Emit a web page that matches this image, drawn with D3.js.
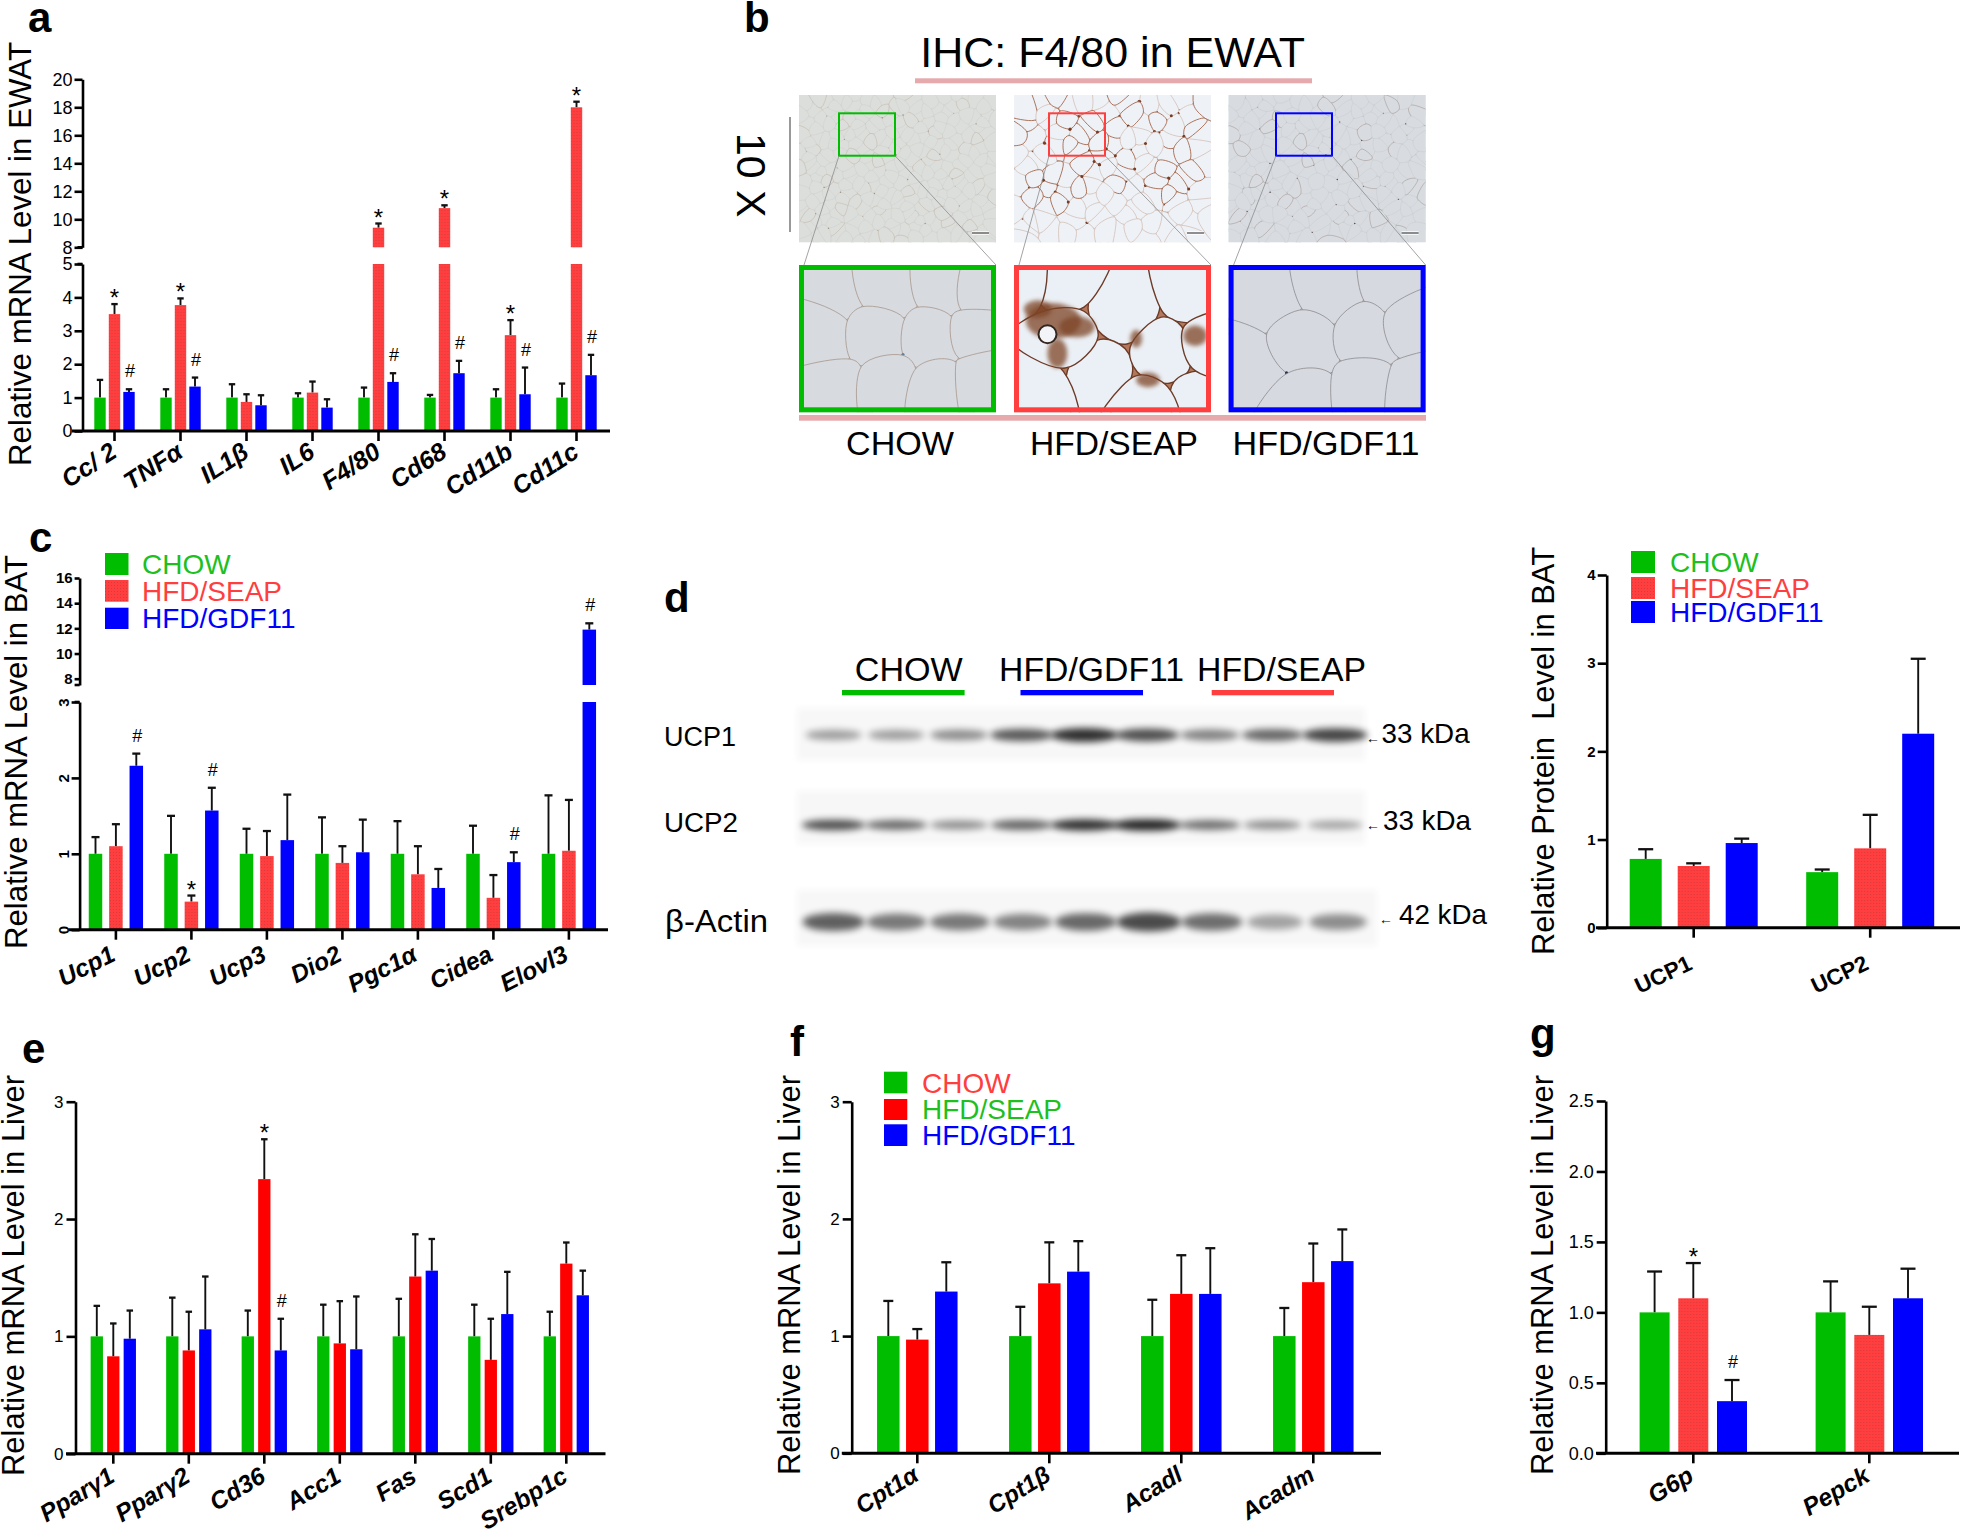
<!DOCTYPE html>
<html>
<head>
<meta charset="utf-8">
<script src="https://cdn.jsdelivr.net/npm/d3@7"></script>
<style>
  html, body { margin: 0; padding: 0; background: #fff; }
  svg text { font-family: "Liberation Sans", Arial, sans-serif; }
</style>
</head>
<body>
<svg id="figure" width="1961" height="1532"></svg>
<script>
// Panel a - EWAT mRNA
const aGenes = ["Cc/ 2", "TNFα", "IL1β", "IL6", "F4/80", "Cd68", "Cd11b", "Cd11c"];
const aChow = [1, 1, 1, 1, 1, 1, 1, 1];
const aChowTop = [1.53, 1.25, 1.4, 1.13, 1.3, 1.08, 1.25, 1.42];
const aSeap = [3.5, 3.77, 0.87, 1.15, 9.4, 10.8, 2.87, 18];
const aSeapTop = [3.8, 3.97, 1.1, 1.48, 9.7, 11, 3.32, 18.4];
const aGdf = [1.17, 1.33, 0.77, 0.7, 1.47, 1.73, 1.1, 1.67];
const aGdfTop = [1.25, 1.6, 1.07, 0.95, 1.73, 2.1, 1.9, 2.28];
const aStars = ["Cc/ 2", "TNFα", "F4/80", "Cd68", "Cd11b", "Cd11c"];
const aHashes = ["Cc/ 2", "TNFα", "F4/80", "Cd68", "Cd11b", "Cd11c"];
const aLowTicks = [0, 1, 2, 3, 4, 5];
const aUpTicks = [8, 10, 12, 14, 16, 18, 20];

// Panel c - BAT mRNA
const cGenes = ["Ucp1", "Ucp2", "Ucp3", "Dio2", "Pgc1α", "Cidea", "Elovl3"];
const cChow = [1, 1, 1, 1, 1, 1, 1];
const cChowTop = [1.22, 1.5, 1.33, 1.48, 1.43, 1.37, 1.77];
const cSeap = [1.1, 0.37, 0.97, 0.88, 0.73, 0.42, 1.04];
const cSeapTop = [1.39, 0.45, 1.3, 1.1, 1.1, 0.72, 1.71];
const cGdf = [2.16, 1.57, 1.18, 1.02, 0.55, 0.89, 11.9];
const cGdfTop = [2.32, 1.87, 1.78, 1.45, 0.8, 1.02, 12.4];
const cStars = ["Ucp2"];
const cHashes = ["Ucp1", "Ucp2", "Cidea", "Elovl3"];
const cLowTicks = [0, 1, 2, 3];
const cUpTicks = [8, 10, 12, 14, 16];

// Panel d - protein quantification
const dGenes = ["UCP1", "UCP2"];
const dChow = [0.78, 0.63];
const dChowTop = [0.89, 0.66];
const dSeap = [0.7, 0.9];
const dSeapTop = [0.73, 1.28];
const dGdf = [0.96, 2.2];
const dGdfTop = [1.01, 3.05];
const dTicks = [0, 1, 2, 3, 4];

// Panel e - liver mRNA
const eGenes = ["Pparγ1", "Pparγ2", "Cd36", "Acc1", "Fas", "Scd1", "Srebp1c"];
const eChow = [1, 1, 1, 1, 1, 1, 1];
const eChowTop = [1.26, 1.33, 1.22, 1.27, 1.32, 1.27, 1.21];
const eSeap = [0.83, 0.88, 2.34, 0.94, 1.51, 0.8, 1.62];
const eSeapTop = [1.11, 1.21, 2.68, 1.3, 1.87, 1.15, 1.8];
const eGdf = [0.98, 1.06, 0.88, 0.89, 1.56, 1.19, 1.35];
const eGdfTop = [1.22, 1.51, 1.15, 1.34, 1.83, 1.55, 1.56];
const eStars = ["Cd36"];
const eHashes = ["Cd36"];
const eTicks = [0, 1, 2, 3];

// Panel f - liver mRNA
const fGenes = ["Cpt1α", "Cpt1β", "Acadl", "Acadm"];
const fChow = [1, 1, 1, 1];
const fChowTop = [1.3, 1.25, 1.31, 1.24];
const fSeap = [0.97, 1.45, 1.36, 1.46];
const fSeapTop = [1.06, 1.8, 1.69, 1.79];
const fGdf = [1.38, 1.55, 1.36, 1.64];
const fGdfTop = [1.63, 1.81, 1.75, 1.91];
const fTicks = [0, 1, 2, 3];

// Panel g - liver mRNA
const gGenes = ["G6p", "Pepck"];
const gChow = [1, 1];
const gChowTop = [1.29, 1.22];
const gSeap = [1.1, 0.84];
const gSeapTop = [1.35, 1.04];
const gGdf = [0.37, 1.1];
const gGdfTop = [0.52, 1.31];
const gStars = ["G6p"];
const gHashes = ["G6p"];
const gTicks = [0, 0.5, 1, 1.5, 2, 2.5];

const groups = ["CHOW", "HFD/SEAP", "HFD/GDF11"];

// Western blot band strength per lane, read by eye
const blotLanes = d3.range(9);
const ucp1Bands = [0.42, 0.42, 0.5, 0.75, 0.95, 0.8, 0.55, 0.68, 0.85];
const ucp2Bands = [0.8, 0.68, 0.5, 0.7, 0.95, 1, 0.65, 0.5, 0.4];
const actinBands = [0.72, 0.6, 0.6, 0.55, 0.68, 0.82, 0.65, 0.4, 0.5];

// Fat cell centres in the three zoomed micrographs (fractions of the frame)
const chowCells = [[.18,.18],[.45,.15],[.75,.15],[.93,.2],[.12,.5],[.38,.48],[.68,.5],[.9,.45],[.2,.85],[.45,.82],[.72,.85],[.92,.8]];
const seapCells = [[.55,.28],[.92,.2],[.42,.74],[.78,.6],[.94,.9],[.68,.98],[.12,.82],[.25,.1],[.03,.1],[.98,.55],[.25,.5]];
const gdfCells = [[.2,.2],[.52,.15],[.85,.15],[.13,.72],[.38,.55],[.72,.48],[.92,.4],[.38,.92],[.7,.85],[.95,.85]];
const seapStains = [[.2,.38,.14,.12],[.12,.3,.07,.06],[.32,.42,.09,.07],[.22,.6,.05,.1],[.68,.78,.06,.05],[.92,.48,.06,.07],[.62,.5,.03,.06]];

const GREEN = "#00bd00";
const RED = "#ff3f3f";
const BLUE = "#0000ff";

const svg = d3.select("#figure");

// dotted fill used on the light red bars
const defs = svg.append("defs");
const speckle = defs.append("pattern")
  .attr("id", "speckle")
  .attr("width", 3).attr("height", 3)
  .attr("patternUnits", "userSpaceOnUse");
speckle.append("rect").attr("width", 3).attr("height", 3).attr("fill", RED);
speckle.append("rect").attr("width", 1).attr("height", 1).attr("fill", "#d83a3a");

defs.append("filter").attr("id", "blur3")
  .attr("x", "-50%").attr("y", "-100%").attr("width", "200%").attr("height", "300%")
  .append("feGaussianBlur").attr("stdDeviation", 3.6);
defs.append("filter").attr("id", "blur2")
  .attr("x", "-50%").attr("y", "-50%").attr("width", "200%").attr("height", "200%")
  .append("feGaussianBlur").attr("stdDeviation", 2);
defs.append("filter").attr("id", "blurEdge")
  .attr("x", "-5%").attr("y", "-20%").attr("width", "110%").attr("height", "140%")
  .append("feGaussianBlur").attr("stdDeviation", 3);

function addText(x, y, str, size, opts = {}) {
  const t = svg.append("text")
    .attr("x", x).attr("y", y)
    .attr("font-size", size)
    .attr("fill", opts.fill || "#000")
    .attr("font-weight", opts.weight || "normal")
    .attr("text-anchor", opts.anchor || "start")
    .text(str);
  if (opts.len) t.attr("textLength", opts.len).attr("lengthAdjust", "spacingAndGlyphs");
  return t;
}

function yTitle(x, yBottom, yTop, str) {
  svg.append("text")
    .attr("transform", `translate(${x},${yBottom}) rotate(-90)`)
    .attr("font-size", 30.5)
    .attr("textLength", yBottom - yTop)
    .attr("lengthAdjust", "spacingAndGlyphs")
    .text(str);
}

function legend(x, rows, textX, textColors, redFill) {
  const fills = [GREEN, redFill, BLUE];
  rows.forEach((r, i) => {
    svg.append("rect")
      .attr("x", x[0]).attr("y", r[0])
      .attr("width", x[1] - x[0]).attr("height", r[1] - r[0])
      .attr("fill", fills[i]);
    addText(textX, r[2], groups[i], 28, { fill: textColors[i] });
  });
}

// One bar panel. Low range is always there, the upper range only on broken axes.
function barPanel(cfg) {
  const g = svg.append("g");
  const rows = cfg.genes.map((gene, i) => ({
    gene,
    bars: [
      { key: groups[0], value: cfg.chow[i], top: cfg.chowTop[i] },
      { key: groups[1], value: cfg.seap[i], top: cfg.seapTop[i] },
      { key: groups[2], value: cfg.gdf[i], top: cfg.gdfTop[i] }
    ]
  }));

  const x = d3.scaleBand()
    .domain(cfg.genes)
    .range([cfg.firstTick - cfg.step / 2, cfg.firstTick + cfg.step * (cfg.genes.length - 0.5)]);

  const pad = 1 - cfg.barWidth / cfg.barStep;
  const xInner = d3.scaleBand()
    .domain(groups)
    .range([-1.5 * cfg.barStep, 1.5 * cfg.barStep])
    .paddingInner(pad)
    .paddingOuter(pad / 2);

  const yLow = d3.scaleLinear().domain(cfg.lowDomain).range(cfg.lowPx);
  const yUp = cfg.upDomain ? d3.scaleLinear().domain(cfg.upDomain).range(cfg.upPx) : null;
  const lowMax = cfg.lowDomain[1];
  const yPos = v => (yUp && v > lowMax ? yUp(Math.max(v, cfg.upDomain[0])) : yLow(v));
  const centre = gene => x(gene) + x.bandwidth() / 2;

  const groupsG = g.selectAll(".gene")
    .data(rows)
    .enter()
    .append("g")
    .attr("transform", d => `translate(${centre(d.gene)},0)`);

  const bars = groupsG.selectAll(".b")
    .data(d => d.bars)
    .enter()
    .append("g");

  const fills = [GREEN, cfg.redFill, BLUE];

  // error bars first, only the upper half shows
  bars.append("line")
    .attr("x1", d => xInner(d.key) + xInner.bandwidth() / 2)
    .attr("x2", d => xInner(d.key) + xInner.bandwidth() / 2)
    .attr("y1", d => yPos(d.value))
    .attr("y2", d => yPos(d.top))
    .attr("stroke", "#111").attr("stroke-width", cfg.errWidth);
  bars.append("line")
    .attr("x1", d => xInner(d.key) + xInner.bandwidth() / 2 - cfg.cap / 2)
    .attr("x2", d => xInner(d.key) + xInner.bandwidth() / 2 + cfg.cap / 2)
    .attr("y1", d => yPos(d.top))
    .attr("y2", d => yPos(d.top))
    .attr("stroke", "#111").attr("stroke-width", cfg.errWidth + 0.4);

  bars.append("rect")
    .attr("x", d => xInner(d.key))
    .attr("width", xInner.bandwidth())
    .attr("y", d => yLow(Math.min(d.value, lowMax)))
    .attr("height", d => yLow(0) - yLow(Math.min(d.value, lowMax)))
    .attr("fill", (d, i) => fills[i]);

  if (yUp) {
    bars.filter(d => d.value > lowMax)
      .append("rect")
      .attr("x", d => xInner(d.key))
      .attr("width", xInner.bandwidth())
      .attr("y", d => yUp(d.value))
      .attr("height", d => yUp(cfg.upDomain[0]) - yUp(d.value))
      .attr("fill", d => fills[groups.indexOf(d.key)]);
  }

  // significance marks
  rows.forEach(r => {
    if ((cfg.stars || []).includes(r.gene)) {
      const b = r.bars[1];
      g.append("text")
        .attr("x", centre(r.gene) + xInner(b.key) + xInner.bandwidth() / 2)
        .attr("y", yPos(b.top) + 2)
        .attr("text-anchor", "middle").attr("font-size", 24).text("*");
    }
    if ((cfg.hashes || []).includes(r.gene)) {
      const b = r.bars[2];
      g.append("text")
        .attr("x", centre(r.gene) + xInner(b.key) + xInner.bandwidth() / 2 + 1)
        .attr("y", yPos(b.top) - 12)
        .attr("text-anchor", "middle").attr("font-size", 18).text("#");
    }
  });

  // y axes
  const styleAxis = (sel, fontSize, weight) => {
    sel.selectAll("path").attr("stroke", "#000").attr("stroke-width", cfg.axisWidth);
    sel.selectAll("line").attr("stroke", "#000").attr("stroke-width", cfg.axisWidth);
    sel.selectAll("text")
      .attr("font-size", fontSize)
      .attr("font-weight", weight)
      .attr("font-family", '"Liberation Sans", Arial, sans-serif')
      .attr("fill", "#000");
  };

  const lowAxis = g.append("g")
    .attr("transform", `translate(${cfg.axisX},0)`)
    .call(d3.axisLeft(yLow)
      .tickValues(cfg.lowTicks)
      .tickSize(cfg.tickLen)
      .tickSizeOuter(0)
      .tickPadding(cfg.tickPad)
      .tickFormat(cfg.tickFormat || d3.format("d")));
  styleAxis(lowAxis, cfg.tickFont, cfg.tickWeight);

  if (cfg.rotateLow) {
    lowAxis.selectAll("text")
      .attr("text-anchor", "middle")
      .attr("transform", "rotate(-90)")
      .attr("x", 0)
      .attr("y", -cfg.tickLen - cfg.tickPad - 1)
      .attr("dy", 0);
  }

  if (yUp) {
    const upAxis = g.append("g")
      .attr("transform", `translate(${cfg.axisX},0)`)
      .call(d3.axisLeft(yUp)
        .tickValues(cfg.upTicks)
        .tickSize(cfg.upTickLen || cfg.tickLen)
        .tickSizeOuter(0)
        .tickPadding(cfg.tickPad)
        .tickFormat(d3.format("d")));
    styleAxis(upAxis, cfg.tickFont, cfg.tickWeight);
    // short foot at the bottom of the upper segment
    upAxis.append("line")
      .attr("x1", -5).attr("x2", 0)
      .attr("y1", cfg.upPx[0]).attr("y2", cfg.upPx[0])
      .attr("stroke", "#000").attr("stroke-width", cfg.axisWidth);
    // top cap of the lower segment
    lowAxis.append("line")
      .attr("x1", -5).attr("x2", 0)
      .attr("y1", cfg.lowPx[1]).attr("y2", cfg.lowPx[1])
      .attr("stroke", "#000").attr("stroke-width", cfg.axisWidth);
  }

  // x axis
  const xAxis = g.append("g")
    .attr("transform", `translate(0,${yLow(0)})`)
    .call(d3.axisBottom(x).tickSize(cfg.xTickLen).tickSizeOuter(0));
  xAxis.select(".domain").remove();
  xAxis.selectAll("line").attr("stroke", "#000").attr("stroke-width", cfg.axisWidth);
  xAxis.selectAll("text")
    .attr("font-size", cfg.xFont)
    .attr("font-weight", "bold")
    .attr("font-style", cfg.xItalic === false ? "normal" : "italic")
    .attr("font-family", '"Liberation Sans", Arial, sans-serif')
    .attr("fill", "#000")
    .attr("text-anchor", "end")
    .attr("dy", 0)
    .attr("x", 0).attr("y", 0)
    .attr("transform", `translate(${cfg.xLabelDx},${cfg.xLabelDy}) rotate(${cfg.xAngle})`);
  xAxis.append("line")
    .attr("x1", cfg.baseline[0]).attr("x2", cfg.baseline[1])
    .attr("y1", 0).attr("y2", 0)
    .attr("stroke", "#000").attr("stroke-width", cfg.axisWidth + 0.5);
}

// ---------- bar panels ----------
barPanel({
  genes: aGenes, chow: aChow, chowTop: aChowTop, seap: aSeap, seapTop: aSeapTop, gdf: aGdf, gdfTop: aGdfTop,
  stars: aStars, hashes: aHashes, lowTicks: aLowTicks, upTicks: aUpTicks,
  firstTick: 114.5, step: 66, barStep: 14.5, barWidth: 11.4,
  lowDomain: [0, 5], lowPx: [431, 264], upDomain: [8, 20], upPx: [247.3, 79.3],
  axisX: 82.5, axisWidth: 2.6, errWidth: 1.9, cap: 6.4, tickLen: 8, tickPad: 2, tickFont: 18, tickWeight: "normal",
  xTickLen: 10, xFont: 25, xLabelDx: 4, xLabelDy: 25, xAngle: -33, baseline: [72, 610], redFill: "url(#speckle)"
});
barPanel({
  genes: cGenes, chow: cChow, chowTop: cChowTop, seap: cSeap, seapTop: cSeapTop, gdf: cGdf, gdfTop: cGdfTop,
  stars: cStars, hashes: cHashes, lowTicks: cLowTicks, upTicks: cUpTicks,
  firstTick: 115.9, step: 75.5, barStep: 20.4, barWidth: 13.5,
  lowDomain: [0, 3], lowPx: [929.7, 702], upDomain: [7.5, 16], upPx: [685, 578],
  axisX: 79.6, axisWidth: 2.6, errWidth: 1.9, cap: 8, tickLen: 8, tickPad: 2, tickFont: 15, tickWeight: "bold",
  rotateLow: true, upTickLen: 5,
  xTickLen: 10, xFont: 24.5, xLabelDx: 1, xLabelDy: 30, xAngle: -27, baseline: [68.5, 608], redFill: "url(#speckle)"
});
barPanel({
  genes: dGenes, chow: dChow, chowTop: dChowTop, seap: dSeap, seapTop: dSeapTop, gdf: dGdf, gdfTop: dGdfTop,
  lowTicks: dTicks,
  firstTick: 1693.7, step: 176.5, barStep: 48, barWidth: 32,
  lowDomain: [0, 4], lowPx: [927.7, 575],
  axisX: 1606.7, axisWidth: 2.6, errWidth: 1.9, cap: 15, tickLen: 9, tickPad: 2, tickFont: 15, tickWeight: "bold",
  xTickLen: 10, xFont: 22.5, xItalic: false, xLabelDx: 0, xLabelDy: 41, xAngle: -25, baseline: [1596, 1960], redFill: "url(#speckle)"
});
barPanel({
  genes: eGenes, chow: eChow, chowTop: eChowTop, seap: eSeap, seapTop: eSeapTop, gdf: eGdf, gdfTop: eGdfTop,
  stars: eStars, hashes: eHashes, lowTicks: eTicks,
  firstTick: 113.3, step: 75.5, barStep: 16.5, barWidth: 12.3,
  lowDomain: [0, 3], lowPx: [1453.7, 1101.7],
  axisX: 75.5, axisWidth: 2.6, errWidth: 1.9, cap: 6.5, tickLen: 9, tickPad: 3, tickFont: 17, tickWeight: "normal",
  xTickLen: 10, xFont: 24.5, xLabelDx: 3, xLabelDy: 27, xAngle: -31, baseline: [66, 605.5], redFill: "#ff0000"
});
barPanel({
  genes: fGenes, chow: fChow, chowTop: fChowTop, seap: fSeap, seapTop: fSeapTop, gdf: fGdf, gdfTop: fGdfTop,
  lowTicks: fTicks,
  firstTick: 917.3, step: 132, barStep: 29, barWidth: 22.5,
  lowDomain: [0, 3], lowPx: [1453.3, 1101.7],
  axisX: 851.7, axisWidth: 2.6, errWidth: 1.9, cap: 10, tickLen: 9, tickPad: 3, tickFont: 17, tickWeight: "normal",
  xTickLen: 10, xFont: 24, xLabelDx: 3, xLabelDy: 26, xAngle: -31, baseline: [841.8, 1381], redFill: "#ff0000"
});
barPanel({
  genes: gGenes, chow: gChow, chowTop: gChowTop, seap: gSeap, seapTop: gSeapTop, gdf: gGdf, gdfTop: gGdfTop,
  stars: gStars, hashes: gHashes, lowTicks: gTicks,
  firstTick: 1693.3, step: 176, barStep: 38.7, barWidth: 30,
  lowDomain: [0, 2.5], lowPx: [1453.3, 1101],
  axisX: 1605.7, axisWidth: 2.6, errWidth: 1.9, cap: 15, tickLen: 9, tickPad: 3, tickFont: 18, tickWeight: "normal",
  tickFormat: d3.format(".1f"),
  xTickLen: 10, xFont: 24.5, xLabelDx: 2, xLabelDy: 27, xAngle: -30, baseline: [1596, 1959], redFill: "url(#speckle)"
});

yTitle(30.7, 466, 42, "Relative mRNA Level in EWAT");
yTitle(26.5, 949, 555, "Relative mRNA Level in BAT");
yTitle(1554, 955, 547, "Relative Protein\u00a0\u00a0Level in BAT");
yTitle(23.6, 1476, 1075, "Relative mRNA Level in Liver");
yTitle(799.5, 1475, 1075, "Relative mRNA Level in Liver");
yTitle(1553.3, 1475, 1075, "Relative mRNA Level in Liver");

const legendInk = ["#1fbf1f", RED, BLUE];
legend([105, 128.5], [[553, 575, 574], [580, 601.7, 601], [607.7, 629, 628]], 142, legendInk, "url(#speckle)");
legend([1631, 1655], [[551, 573, 571.7], [577, 599, 597.7], [601, 623, 622]], 1670, legendInk, "url(#speckle)");
legend([884, 907.3], [[1071.7, 1093.3, 1092.7], [1099, 1120, 1119.3], [1124.3, 1146, 1145]], 922, [RED, "#1fbf1f", BLUE], "#ff0000");

// ---------- panel letters ----------
[["a", 28, 32], ["b", 744, 32], ["c", 29, 552], ["d", 664, 612], ["e", 22, 1063], ["f", 790, 1056], ["g", 1530, 1048]]
  .forEach(d => addText(d[1], d[2], d[0], 42, { weight: "bold" }));

// ---------- panel b micrographs ----------
addText(1112.6, 66.7, "IHC: F4/80 in EWAT", 43, { anchor: "middle" });
svg.append("rect").attr("x", 915).attr("y", 78.3).attr("width", 397).attr("height", 5).attr("fill", "#e6a9ac");
svg.append("rect").attr("x", 799).attr("y", 415).attr("width", 627).attr("height", 5.7).attr("fill", "#e6a9ac");
addText(900, 455, "CHOW", 33, { anchor: "middle", len: 108 });
addText(1114, 455, "HFD/SEAP", 33, { anchor: "middle", len: 168 });
addText(1326, 455, "HFD/GDF11", 33, { anchor: "middle", len: 187 });
svg.append("text").attr("transform", "translate(737,133) rotate(90)").attr("font-size", 41).text("10 X");
svg.append("line").attr("x1", 790).attr("x2", 790).attr("y1", 117).attr("y2", 232).attr("stroke", "#777").attr("stroke-width", 1.5);

// Halton points, only a texture for the low power fields
const halton = (i, base) => {
  let f = 1, r = 0;
  while (i > 0) {
    f /= base;
    r += f * (i % base);
    i = Math.floor(i / base);
  }
  return r;
};
const lattice = n => d3.range(1, n + 1).map(i => [halton(i, 2), halton(i, 3)]);

const roundCell = d3.line().curve(d3.curveCatmullRomClosed.alpha(0.5));

function fatCells(g, seeds, w, h, shrink, style) {
  const pts = seeds.map(p => [p[0] * w, p[1] * h]);
  const vor = d3.Delaunay.from(pts).voronoi([-w * 0.2, -h * 0.2, w * 1.2, h * 1.2]);
  pts.forEach((p, i) => {
    const poly = vor.cellPolygon(i);
    if (!poly) return;
    const ring = poly.slice(0, -1).map(q => [p[0] + (q[0] - p[0]) * shrink, p[1] + (q[1] - p[1]) * shrink]);
    g.append("path")
      .attr("d", roundCell(ring))
      .attr("fill", style.fill)
      .attr("stroke", typeof style.stroke === "function" ? style.stroke(i, p) : style.stroke)
      .attr("stroke-width", style.width);
    // small dark nuclei at some of the cell corners
    if (style.speck && style.speck(i, p)) {
      g.append("circle")
        .attr("cx", ring[0][0]).attr("cy", ring[0][1])
        .attr("r", style.speckR)
        .attr("fill", style.speckFill);
    }
  });
}

function frame(id, x, y, w, h, bg) {
  defs.append("clipPath").attr("id", id).append("rect").attr("width", w).attr("height", h);
  const g = svg.append("g").attr("transform", `translate(${x},${y})`).attr("clip-path", `url(#${id})`);
  g.append("rect").attr("width", w).attr("height", h).attr("fill", bg);
  return g;
}

const colX = [799, 1014, 1228.6];
const colW = 197;
const thumbBg = ["#d6d7d4", "#dcc6ba", "#cfd2d6"];
const cellFill = ["#dcdedc", "#eef2f7", "#d8dce1"];
const cellStroke = [
  i => (i % 5 === 0 ? "#c4b8a9" : "#d0d1cd"),
  (i, p) => (p[1] < 105 && i % 5 < 3 ? "#a5674c" : "#d6c5bd"),
  i => (i % 5 === 0 ? "#a89a94" : "#cbced2")
];
const thumbCount = [260, 110, 200];
const thumbSpeck = [
  i => i % 7 === 0,
  (i, p) => (p[1] < 105 ? i % 7 < 4 : i % 7 === 0),
  i => i % 7 === 0
];
const speckColor = ["#a39080", "#7a3b24", "#4f3f3c"];
const boxX = [839, 1049, 1276];
const boxColor = [GREEN, RED, BLUE];
const insetCells = [chowCells, seapCells, gdfCells];
const insetBg = ["#c9c3bb", "#b4795c", "#b9b6b6"];
const insetFill = ["#d7dadf", "#ebf0f6", "#d6d9e0"];
const insetStroke = ["#a8978c", "#6d3b27", "#8d8a8d"];

colX.forEach((cx, k) => {
  const t = frame(`thumb${k}`, cx, 95, colW, 147.3, thumbBg[k]);
  fatCells(t, lattice(thumbCount[k]), colW, 147.3, 0.97, {
    fill: cellFill[k], stroke: cellStroke[k], width: k === 1 ? 0.9 : 0.6,
    speck: thumbSpeck[k], speckR: k === 1 ? 1.5 : 0.7, speckFill: speckColor[k]
  });
  // scale bar
  t.append("rect").attr("x", 173).attr("y", 136).attr("width", 17).attr("height", 4).attr("fill", "#fff").attr("opacity", 0.7);
  t.append("line").attr("x1", 173).attr("x2", 190).attr("y1", 138).attr("y2", 138).attr("stroke", "#222").attr("stroke-width", 1.2);

  const ins = frame(`inset${k}`, cx, 265, colW, 147.3, insetBg[k]);
  fatCells(ins, insetCells[k], colW, 147.3, k === 1 ? 0.93 : 0.985, {
    fill: insetFill[k], stroke: insetStroke[k], width: k === 1 ? 1.4 : 0.8,
    speck: k === 1 ? null : (i => i % 2 === 0), speckR: 1.6, speckFill: k === 0 ? "#5f7fa0" : "#2a3150"
  });
  if (k === 1) {
    seapStains.forEach(s => {
      ins.append("ellipse")
        .attr("cx", s[0] * colW).attr("cy", s[1] * 147.3)
        .attr("rx", s[2] * colW).attr("ry", s[3] * 147.3)
        .attr("fill", "#7e4528").attr("opacity", 0.75)
        .attr("filter", "url(#blur2)");
    });
    ins.append("circle")
      .attr("cx", 0.17 * colW).attr("cy", 0.47 * 147.3).attr("r", 9)
      .attr("fill", "#f2f4f7").attr("stroke", "#33261f").attr("stroke-width", 2);
  }
  // inset outline
  svg.append("rect")
    .attr("x", cx + 2.5).attr("y", 267.5)
    .attr("width", colW - 5).attr("height", 142.3)
    .attr("fill", "none").attr("stroke", boxColor[k]).attr("stroke-width", 5);

  // small box and the two lines down to the inset
  svg.append("rect")
    .attr("x", boxX[k]).attr("y", 113.3)
    .attr("width", 56).attr("height", 42.4)
    .attr("fill", "none").attr("stroke", boxColor[k]).attr("stroke-width", 2);
  [[boxX[k], cx + 5], [boxX[k] + 56, cx + colW]].forEach(p => {
    svg.append("line")
      .attr("x1", p[0]).attr("y1", 155.7)
      .attr("x2", p[1]).attr("y2", 265)
      .attr("stroke", "#8c8c8c").attr("stroke-width", 0.8);
  });
});

// ---------- panel d blots ----------
addText(908.8, 681, "CHOW", 33, { anchor: "middle", len: 108 });
addText(1091.6, 681, "HFD/GDF11", 33, { anchor: "middle", len: 185 });
addText(1281.5, 681, "HFD/SEAP", 33, { anchor: "middle", len: 169 });
[[842, 964.6, GREEN], [1020.5, 1143, BLUE], [1211.7, 1334, RED]].forEach(d => {
  svg.append("rect").attr("x", d[0]).attr("y", 690).attr("width", d[1] - d[0]).attr("height", 5.3).attr("fill", d[2]);
});

function blot(y0, y1, x1, bandY, bandRy, strengths, xEnd) {
  svg.append("rect")
    .attr("x", 797).attr("y", y0 + 3).attr("width", x1 - 797).attr("height", y1 - y0 - 6)
    .attr("fill", "#f7f7f7").attr("filter", "url(#blurEdge)");
  const lane = d3.scalePoint().domain(blotLanes).range([833.6, xEnd]);
  svg.append("g").selectAll("ellipse")
    .data(strengths)
    .enter()
    .append("ellipse")
    .attr("cx", (d, i) => lane(i))
    .attr("cy", bandY)
    .attr("rx", d => 24 + d * 10)
    .attr("ry", d => bandRy * (0.7 + d * 0.6))
    .attr("fill", "#000")
    .attr("opacity", d => d * 0.85)
    .attr("filter", "url(#blur3)");
}
blot(705, 763, 1365, 735, 5.5, ucp1Bands, 1335);
blot(788, 847, 1365, 825, 4.5, ucp2Bands, 1335);
blot(887, 949, 1377, 922, 8, actinBands, 1338);

addText(664, 746, "UCP1", 27, { len: 72 });
addText(664, 831.7, "UCP2", 27, { len: 74 });
addText(665, 931.7, "β-Actin", 31, { len: 103 });
addText(1366, 743, "←", 14);
addText(1381.6, 743, "33 kDa", 28, { len: 88 });
addText(1366, 830, "←", 14);
addText(1383, 830, "33 kDa", 28, { len: 88 });
addText(1379, 924, "←", 14);
addText(1399, 924, "42 kDa", 28, { len: 88 });
</script>
</body>
</html>
